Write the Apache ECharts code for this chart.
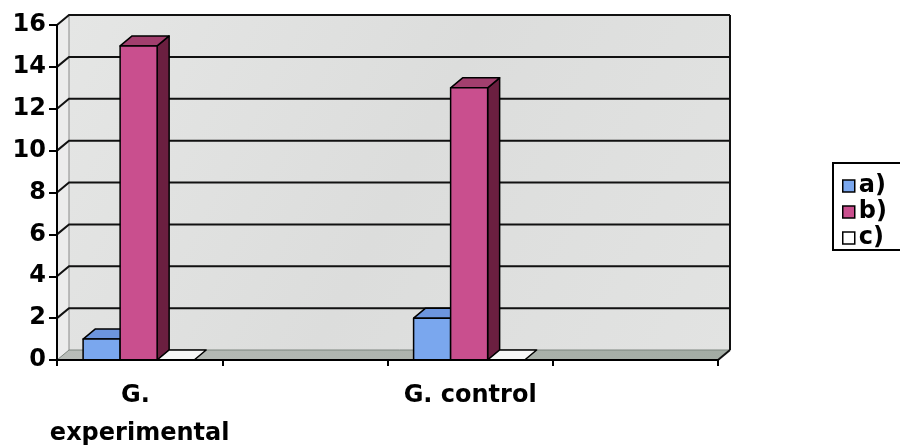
<!DOCTYPE html>
<html>
<head>
<meta charset="utf-8">
<script src="https://cdn.jsdelivr.net/npm/echarts@6/dist/echarts.min.js"></script>
<style>
  html, body { margin: 0; padding: 0; background: #ffffff; }
  #chart { width: 900px; height: 446px; }
</style>
</head>
<body>
<div id="chart"></div>
<script>
// Categories along the floor (two empty slots keep the Excel-like spacing)
const categories = ['G. experimental', '', 'G. control', ''];
const seriesNames = ['a)', 'b)', 'c)'];
const valuesA = [1, null, 2, null];
const valuesB = [15, null, 13, null];
const valuesC = [0, null, 0, null];
const yTicks = [0, 2, 4, 6, 8, 10, 12, 14, 16];

const FONT = 'DejaVu Sans';
const DX = 12, DY = -10;      // depth offset used for the pseudo-3D box and bars
const BAR_RATIO = 0.224;      // bar width as a share of one category band

const palette = [
  { front: '#7aa7ee', top: '#6c95de', side: '#4b70b4' },
  { front: '#c94f8e', top: '#a23f6e', side: '#6b1f40' },
  { front: '#ffffff', top: '#f8f8f8', side: '#dddddd' }
];

function toData(vals) {
  return vals.map((v, i) => (v == null ? null : [i, v])).filter(Boolean);
}

// Back wall, side wall, floor and gridlines of the 3D box
function renderFrame(params, api) {
  const cs = params.coordSys;
  const L = cs.x, R = cs.x + cs.width;
  const yTop = api.coord([0, yTicks[yTicks.length - 1]])[1];
  const yZero = api.coord([0, yTicks[0]])[1];
  const children = [];
  children.push({
    type: 'rect',
    shape: { x: L + DX, y: yTop + DY, width: R - L, height: yZero - yTop },
    style: {
      fill: new echarts.graphic.LinearGradient(0, 0, 1, 1, [
        { offset: 0, color: '#e5e6e5' },
        { offset: 0.5, color: '#dcdddc' },
        { offset: 1, color: '#e2e3e2' }
      ])
    }
  });
  children.push({
    type: 'polygon',
    shape: { points: [[L, yTop], [L + DX, yTop + DY], [L + DX, yZero + DY], [L, yZero]] },
    style: { fill: '#ececec' }
  });
  children.push({
    type: 'polygon',
    shape: { points: [[L, yZero], [R, yZero], [R + DX, yZero + DY], [L + DX, yZero + DY]] },
    style: {
      fill: new echarts.graphic.LinearGradient(0, 0, 1, 0, [
        { offset: 0, color: '#b9bdb9' },
        { offset: 1, color: '#a3aca4' }
      ])
    }
  });
  children.push({
    type: 'line',
    shape: { x1: L + DX, y1: yTop + DY, x2: L + DX, y2: yZero + DY },
    style: { stroke: '#8a8a8a', lineWidth: 1 }
  });
  children.push({
    type: 'polyline',
    shape: { points: [[L, yZero], [L + DX, yZero + DY], [R + DX, yZero + DY]] },
    style: { stroke: '#7d857e', lineWidth: 1, fill: null }
  });
  yTicks.slice(1).forEach(t => {
    const y = api.coord([0, t])[1];
    children.push({
      type: 'polyline',
      shape: { points: [[L, y], [L + DX, y + DY], [R + DX, y + DY]] },
      style: { stroke: '#111111', lineWidth: 2, fill: null }
    });
  });
  children.push({
    type: 'line',
    shape: { x1: R + DX, y1: yTop + DY, x2: R + DX, y2: yZero + DY },
    style: { stroke: '#111111', lineWidth: 2 }
  });
  children.push({
    type: 'line',
    shape: { x1: R, y1: yZero, x2: R + DX, y2: yZero + DY },
    style: { stroke: '#111111', lineWidth: 2 }
  });
  return { type: 'group', children };
}

// One prism per value: side face, top face, front face
function makeBar(k) {
  return function (params, api) {
    const cat = api.value(0), val = api.value(1);
    const base = api.coord([cat, 0]);
    const top = api.coord([cat, val]);
    const w = api.size([1, 0])[0] * BAR_RATIO;
    const x0 = base[0] - 1.5 * w + k * w - 1, x1 = x0 + w;
    const yb = base[1], yt = top[1];
    const c = palette[k];
    const st = fill => ({ fill, stroke: '#000', lineWidth: 1.5, lineJoin: 'round' });
    const children = [];
    if (yb - yt > 0.5) {
      children.push({ type: 'polygon', shape: { points: [[x1, yt], [x1 + DX, yt + DY], [x1 + DX, yb + DY], [x1, yb]] }, style: st(c.side) });
    }
    children.push({ type: 'polygon', shape: { points: [[x0, yt], [x1, yt], [x1 + DX, yt + DY], [x0 + DX, yt + DY]] }, style: st(c.top) });
    if (yb - yt > 0.5) {
      children.push({ type: 'rect', shape: { x: x0, y: yt, width: w, height: yb - yt }, style: st(c.front) });
    }
    return { type: 'group', children };
  };
}

const seriesValues = [valuesA, valuesB, valuesC];
const barSeries = seriesNames.map((name, k) => ({
  name,
  type: 'custom',
  renderItem: makeBar(k),
  data: toData(seriesValues[k]),
  encode: { x: 0, y: 1 },
  itemStyle: { color: palette[k].front, borderColor: '#000', borderWidth: 1.5 },
  clip: false,
  z: 3
}));

const chart = echarts.init(document.getElementById('chart'));
chart.setOption({
  animation: false,
  backgroundColor: '#ffffff',
  grid: { left: 57, right: 182, top: 25, bottom: 86, containLabel: false, outerBoundsMode: 'none' },
  legend: {
    data: seriesNames,
    orient: 'vertical',
    left: 833,
    top: 163,
    padding: [11, 60, 0, 9],
    itemGap: 2,
    itemWidth: 12,
    itemHeight: 12,
    borderColor: '#000',
    borderWidth: 2,
    icon: 'rect',
    itemStyle: { borderColor: '#000', borderWidth: 1.5 },
    textStyle: { fontFamily: FONT, fontWeight: 'bold', fontSize: 24, color: '#000', padding: [0, 0, 0, -1] }
  },
  xAxis: {
    type: 'category',
    data: categories,
    boundaryGap: true,
    z: 5,
    axisLine: { lineStyle: { color: '#000', width: 2 } },
    axisTick: { show: true, interval: 0, length: 6, lineStyle: { color: '#000', width: 2 } },
    axisLabel: {
      interval: 0,
      fontFamily: FONT,
      fontWeight: 'bold',
      fontSize: 24,
      color: '#000',
      width: 195,
      overflow: 'break',
      lineHeight: 38,
      margin: 17
    },
    splitLine: { show: false }
  },
  yAxis: {
    type: 'value',
    min: 0,
    max: 16,
    interval: 2,
    z: 5,
    axisLine: { show: true, lineStyle: { color: '#000', width: 2 } },
    axisTick: { show: true, length: 8, lineStyle: { color: '#000', width: 2 } },
    axisLabel: { fontFamily: FONT, fontWeight: 'bold', fontSize: 24, color: '#000', margin: 11 },
    splitLine: { show: false }
  },
  series: [
    {
      name: 'frame',
      type: 'custom',
      renderItem: renderFrame,
      data: [[0, 0]],
      encode: { x: 0, y: 1 },
      silent: true,
      clip: false,
      z: 1
    }
  ].concat(barSeries)
});
</script>
</body>
</html>
